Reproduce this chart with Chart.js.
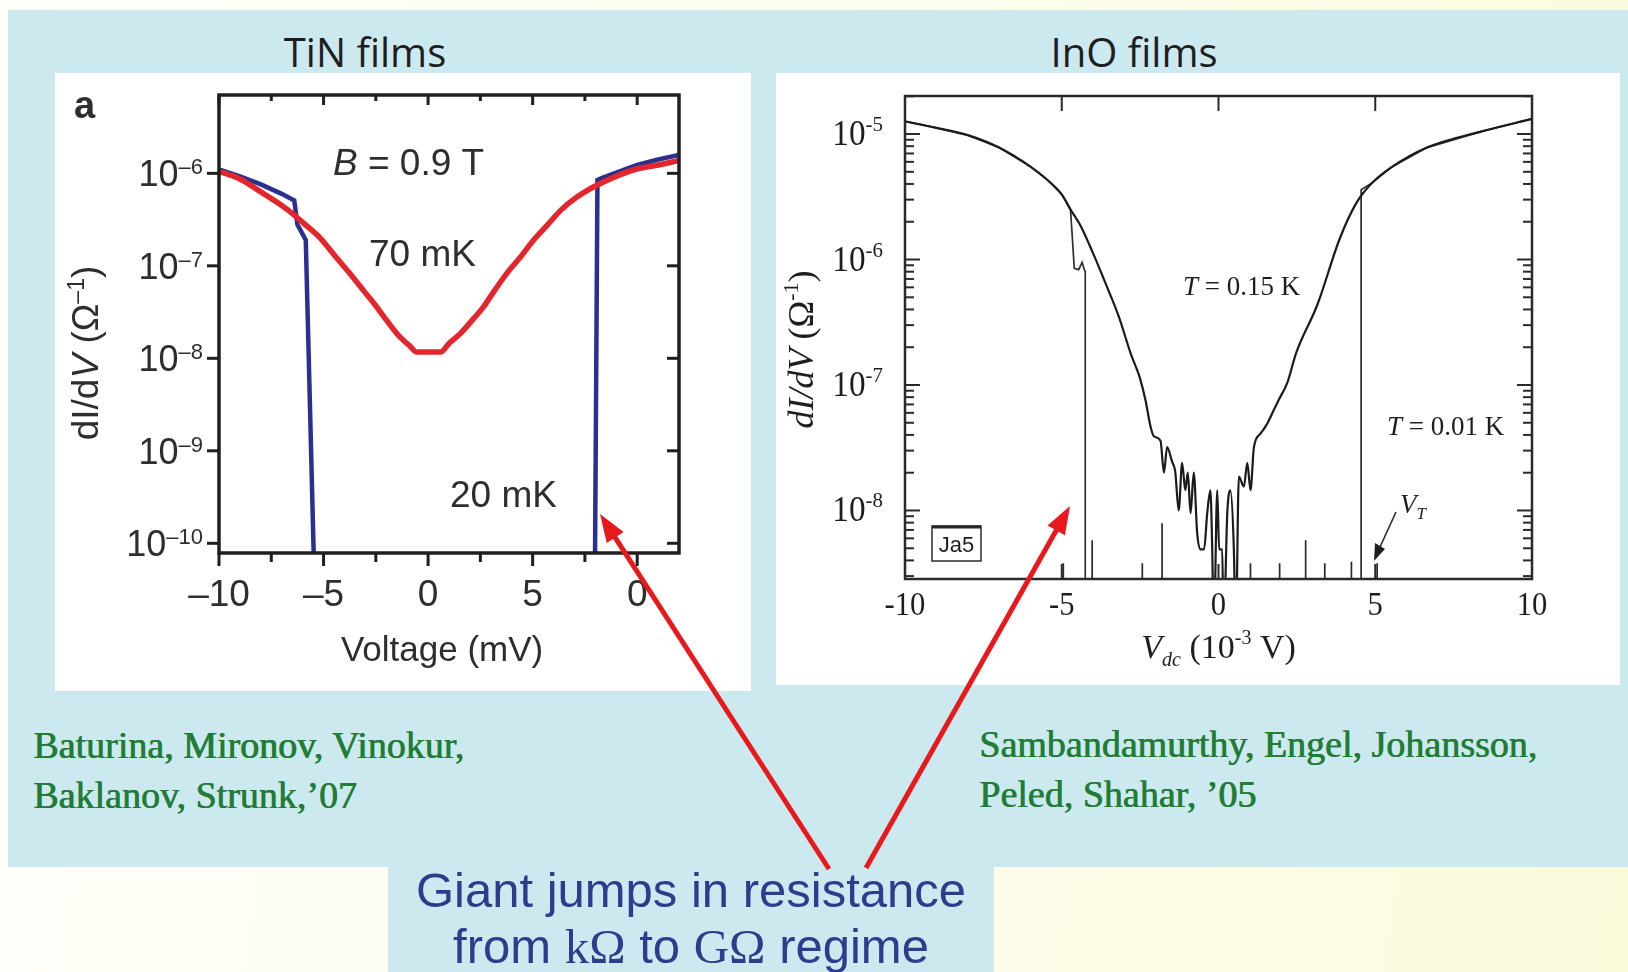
<!DOCTYPE html>
<html>
<head>
<meta charset="utf-8">
<script src="https://cdn.jsdelivr.net/npm/chart.js"></script>
<style>
  html, body { margin: 0; padding: 0; }
  body {
    width: 1628px; height: 972px; overflow: hidden; position: relative;
    background: linear-gradient(100deg, #fefefa 0%, #fdfdf0 45%, #fcfbdc 100%);
  }
  .blue { position: absolute; background: #cde9f0; }
  #panel { left: 8px; top: 10px; width: 1620px; height: 857px; }
  #capbox { left: 388px; top: 860px; width: 606px; height: 112px; }
  .box { position: absolute; background: #fff; }
  #tinBox { left: 55px; top: 73px; width: 696px; height: 618px; }
  #inoBox { left: 776px; top: 73px; width: 844px; height: 612px; }
  .title {
    position: absolute; top: 32px; font-family: "Open Sans", sans-serif; font-size: 40px;
    line-height: 40px; color: #1e1e1e; white-space: nowrap; transform: translateX(-50%);
  }
  .cite {
    position: absolute; font-family: "Liberation Serif", serif; font-size: 38px; line-height: 50px;
    color: #1f7d35; white-space: nowrap; text-shadow: 0.8px 0 0 #1f7d35;
  }
  .cap {
    position: absolute; left: 388px; top: 862px; width: 606px; text-align: center;
    font-family: "Liberation Sans", Arial, sans-serif; font-size: 49px; line-height: 56px;
    color: #2b3d8c; white-space: nowrap;
  }
  .cap .s { font-family: "Liberation Serif", serif; }
  canvas { position: absolute; }
  #arrows { left: 0; top: 0; z-index: 5; pointer-events: none; }
</style>
</head>
<body>
<div class="blue" id="panel"></div>
<div class="blue" id="capbox"></div>
<div class="title" style="left:365px">TiN films</div>
<div class="title" style="left:1134px">InO films</div>
<div class="box" id="tinBox"><canvas id="tin" width="696" height="618"></canvas></div>
<div class="box" id="inoBox"><canvas id="ino" width="844" height="612"></canvas></div>
<div class="cite" style="left:33px; top:720px">Baturina, Mironov, Vinokur,<br>Baklanov, Strunk,’07</div>
<div class="cite" style="left:979px; top:719px">Sambandamurthy, Engel, Johansson,<br>Peled, Shahar, ’05</div>
<div class="cap">Giant jumps in resistance<br>from <span class="s">kΩ</span> to <span class="s">GΩ</span> regime</div>
<canvas id="arrows" width="1628" height="972"></canvas>

<script>
// TiN film, B = 0.9 T: differential conductance (1/Ohm) against bias (mV)
var tinV70 = [-10, -9, -8, -7, -6.5, -6, -5.2, -4.5, -3.75, -3, -2.5, -2, -1.35, -0.9, -0.55,
  0.6, 1.0, 1.55, 2.1, 2.65, 3.2, 3.8, 4.4, 5.05, 5.7, 6.35, 7.1, 7.95, 8.9, 9.9, 11, 12];
var tinG70 = [1.05e-6, 8.7e-7, 6.3e-7, 4.5e-7, 3.7e-7, 2.95e-7, 2.04e-7, 1.32e-7, 8.3e-8, 5.1e-8, 3.7e-8, 2.6e-8, 1.7e-8, 1.38e-8, 1.17e-8,
  1.17e-8, 1.45e-8, 1.86e-8, 2.57e-8, 3.6e-8, 5.5e-8, 8.5e-8, 1.23e-7, 1.9e-7, 2.75e-7, 4.0e-7, 5.5e-7, 7.2e-7, 9.1e-7, 1.10e-6, 1.23e-6, 1.38e-6];
var tinV20 = [-10, -9, -8, -7, -6.4, -6.25, -5.85, -5.45, 0, 7.98, 8.1, 8.3, 9, 10, 11, 12];
var tinG20 = [1.10e-6, 9.3e-7, 7.6e-7, 6.0e-7, 5.1e-7, 2.8e-7, 1.9e-7, 5e-11, null, 5e-11, 8.5e-7, 8.9e-7, 1.02e-6, 1.23e-6, 1.41e-6, 1.58e-6];

var tinXTicks = [-10, -5, 0, 5, 10];
var tinXLabels = ['–10', '–5', '0', '5', '0'];
var tinXMinor = [-10, -7.5, -5, -2.5, 0, 2.5, 5, 7.5, 10];
var tinYExp = [-6, -7, -8, -9, -10];

// InO film (Ja5): T = 0.15 K and T = 0.01 K sweeps, V in mV
var inoV015 = [-10, -9, -8, -7, -6, -5.5, -5, -4.72, -4.4, -4.0, -3.55, -3.18, -2.8, -2.5, -2.33, -2.17, -2.06, -1.85, -1.74, -1.64,
  -1.48, -1.38, -1.27, -1.16, -1.06, -0.98, -0.89, -0.79, -0.68, -0.57, -0.46, -0.36, -0.26, -0.2, -0.15, -0.04, 0.02, 0.12, 0.16, 0.28,
  0.38, 0.49, 0.55, 0.65, 0.81, 0.92, 1.02, 1.13, 1.34, 1.55, 1.76, 1.92, 2.2, 2.47, 3.16, 3.86, 4.39, 4.91, 5.5, 6.65, 8.4, 10];
var inoG015 = [1.26e-5, 1.12e-5, 9.8e-6, 7.8e-6, 5.5e-6, 4.4e-6, 3.3e-6, 2.5e-6, 1.86e-6, 1.12e-6, 6.0e-7, 3.5e-7, 1.78e-7, 1.12e-7, 7.6e-8, 4.7e-8, 3.9e-8, 3.6e-8, 2.0e-8, 3.2e-8,
  2.45e-8, 2.04e-8, 1.0e-8, 2.4e-8, 1.45e-8, 2.0e-8, 9.5e-9, 2.0e-8, 6.6e-9, 4.9e-9, 4.9e-9, 9.5e-9, 1.45e-8, 4.9e-9, 1e-9, 1.45e-8, 4.9e-9, 4.9e-9, 1e-9, 9.5e-9,
  1.45e-8, 4.9e-9, 1e-9, 1.86e-8, 1.55e-8, 2.4e-8, 1.45e-8, 3.2e-8, 4.1e-8, 4.9e-8, 6.3e-8, 7.6e-8, 1.05e-7, 1.78e-7, 4.4e-7, 1.45e-6, 2.8e-6, 4.1e-6, 5.4e-6, 7.8e-6, 1.05e-5, 1.32e-5];
var inoV001 = [-10, -9, -8, -7, -6, -5.5, -5, -4.72, -4.6, -4.46, -4.35, -4.28, -4.25, -4.25, 0, 4.55, 4.55, 4.91, 5.5, 6.65, 8.4, 10];
var inoG001 = [1.26e-5, 1.12e-5, 9.8e-6, 7.8e-6, 5.5e-6, 4.4e-6, 3.3e-6, 2.5e-6, 8.5e-7, 8.3e-7, 9.5e-7, 8.3e-7, 8.0e-7, 1e-9, null,
  1e-9, 3.6e-6, 4.1e-6, 5.4e-6, 7.8e-6, 1.05e-5, 1.32e-5];
// isolated conductance spikes of the 0.01 K trace, rising from below the axis floor
var inoFloor = 1e-9;
var inoSpikeV = [-4.95, -4.03, -2.43, -1.80, 1.02, 1.95, 2.78, 3.39, 4.24, 5.06];
var inoSpikeTop = [3.8e-9, 5.8e-9, 3.8e-9, 7.9e-9, 3.8e-9, 3.8e-9, 5.8e-9, 3.8e-9, 3.9e-9, 3.8e-9];

var inoXTicks = [-10, -5, 0, 5, 10];
var inoXLabels = ['-10', '-5', '0', '5', '10'];
var inoXInner = [-5, 0, 5];
var inoYExp = [-5, -6, -7, -8];

function pts(xs, ys) {
  return xs.map(function (x, i) { return { x: x, y: ys[i] }; });
}

function spikes(xs, tops, floor) {
  var out = [];
  xs.forEach(function (x, i) {
    out.push({ x: x, y: floor }, { x: x, y: tops[i] }, { x: x, y: null });
  });
  return out;
}

function line(ctx, x0, y0, x1, y1) {
  ctx.beginPath(); ctx.moveTo(x0, y0); ctx.lineTo(x1, y1); ctx.stroke();
}

// draws a row of text pieces (font / baseline shift each), optionally squeezed horizontally
function runs(ctx, segs, x, y, align, sx) {
  sx = sx || 1;
  var w = 0;
  segs.forEach(function (s) { ctx.font = s.f; w += ctx.measureText(s.t).width; });
  var x0 = align === 'right' ? -w : align === 'center' ? -w / 2 : 0;
  ctx.save();
  ctx.translate(x, y);
  ctx.scale(sx, 1);
  ctx.textAlign = 'left';
  ctx.textBaseline = 'alphabetic';
  segs.forEach(function (s) {
    ctx.font = s.f;
    ctx.fillText(s.t, x0, s.dy || 0);
    x0 += ctx.measureText(s.t).width;
  });
  ctx.restore();
}

var SANS = '"Liberation Sans", Arial, sans-serif';
var SERIF = '"Liberation Serif", "Times New Roman", serif';

var tinAxes = {
  id: 'tinAxes',
  afterDatasetsDraw: function (chart) {
    var ctx = chart.ctx, a = chart.chartArea, xs = chart.scales.x, ys = chart.scales.y;
    ctx.save();
    ctx.strokeStyle = '#1f1f1f';
    ctx.fillStyle = '#2e2e2e';
    ctx.lineWidth = 3.5;
    ctx.strokeRect(a.left, a.top, a.right - a.left, a.bottom - a.top);
    ctx.lineWidth = 3;
    tinXMinor.forEach(function (v) {
      var x = xs.getPixelForValue(v), major = v % 5 === 0;
      line(ctx, x, a.bottom, x, a.bottom + (major ? 13 : 9));
      line(ctx, x, a.top, x, a.top + (major ? 10 : 6));
    });
    tinYExp.forEach(function (e) {
      var y = ys.getPixelForValue(Math.pow(10, e));
      line(ctx, a.left - 12, y, a.left, y);
      line(ctx, a.right - 12, y, a.right, y);
      runs(ctx, [{ t: '10', f: '36px ' + SANS }, { t: '–' + (-e), f: '22px ' + SANS, dy: -12 }], a.left - 16, y + 13, 'right');
    });
    tinXTicks.forEach(function (v, i) {
      runs(ctx, [{ t: tinXLabels[i], f: '37px ' + SANS }], xs.getPixelForValue(v), a.bottom + 53, 'center');
    });
    runs(ctx, [{ t: 'Voltage (mV)', f: '35px ' + SANS }], xs.getPixelForValue(0) + 14, a.bottom + 108, 'center');
    ctx.save();
    ctx.translate(a.left - 121, (a.top + a.bottom) / 2 + 29);
    ctx.rotate(-Math.PI / 2);
    runs(ctx, [{ t: 'dI/d', f: '37px ' + SANS }, { t: 'V', f: 'italic 37px ' + SANS }, { t: ' (Ω', f: '37px ' + SANS },
      { t: '–1', f: '23px ' + SANS, dy: -14 }, { t: ')', f: '37px ' + SANS }], 0, 0, 'center');
    ctx.restore();
    // panel letter and curve labels
    runs(ctx, [{ t: 'a', f: 'bold 38px ' + SANS }], 19, 45, 'left');
    runs(ctx, [{ t: 'B', f: 'italic 37px ' + SANS }, { t: ' = 0.9 T', f: '37px ' + SANS }], 278, 102, 'left');
    runs(ctx, [{ t: '70 mK', f: '37px ' + SANS }], 314, 193, 'left');
    runs(ctx, [{ t: '20 mK', f: '37px ' + SANS }], 395, 434, 'left');
    ctx.restore();
  }
};

var inoAxes = {
  id: 'inoAxes',
  afterDatasetsDraw: function (chart) {
    var ctx = chart.ctx, a = chart.chartArea, xs = chart.scales.x, ys = chart.scales.y;
    ctx.save();
    ctx.strokeStyle = '#2a2a2a';
    ctx.fillStyle = '#1e1e1e';
    ctx.lineWidth = 2.5;
    ctx.strokeRect(a.left, a.top, a.right - a.left, a.bottom - a.top);
    ctx.lineWidth = 2;
    for (var e = -9; e <= -5; e++) {
      for (var m = 1; m <= 9; m++) {
        var val = m * Math.pow(10, e);
        if (val < ys.min || val > ys.max) continue;
        var y = ys.getPixelForValue(val), len = m === 1 ? 15 : 9;
        line(ctx, a.left, y, a.left + len, y);
        line(ctx, a.right - len, y, a.right, y);
      }
    }
    inoXInner.forEach(function (v) {
      var x = xs.getPixelForValue(v);
      line(ctx, x, a.bottom, x, a.bottom - 15);
      line(ctx, x, a.top, x, a.top + 15);
    });
    inoYExp.forEach(function (e) {
      var y = ys.getPixelForValue(Math.pow(10, e));
      runs(ctx, [{ t: '10', f: '35px ' + SERIF }, { t: '-' + (-e), f: '22px ' + SERIF, dy: -14 }], a.left - 22, y + 11, 'right', 0.95);
    });
    inoXTicks.forEach(function (v, i) {
      runs(ctx, [{ t: inoXLabels[i], f: '34px ' + SERIF }], xs.getPixelForValue(v), a.bottom + 36, 'center', 0.9);
    });
    runs(ctx, [{ t: 'V', f: 'italic 34px ' + SERIF }, { t: 'dc', f: 'italic 20px ' + SERIF, dy: 8 }, { t: ' (10', f: '34px ' + SERIF },
      { t: '-3', f: '20px ' + SERIF, dy: -14 }, { t: ' V)', f: '34px ' + SERIF }], xs.getPixelForValue(0), a.bottom + 79, 'center');
    ctx.save();
    ctx.translate(a.left - 92, (a.top + a.bottom) / 2 + 12);
    ctx.rotate(-Math.PI / 2);
    runs(ctx, [{ t: 'dI/dV', f: 'italic 36px ' + SERIF }, { t: ' (Ω', f: '36px ' + SERIF },
      { t: '-1', f: '22px ' + SERIF, dy: -15 }, { t: ')', f: '36px ' + SERIF }], 0, 0, 'center');
    ctx.restore();
    // temperature labels, V_T marker and sample tag
    runs(ctx, [{ t: 'T', f: 'italic 27px ' + SERIF }, { t: ' = 0.15 K', f: '27px ' + SERIF }], 407, 222, 'left');
    runs(ctx, [{ t: 'T', f: 'italic 27px ' + SERIF }, { t: ' = 0.01 K', f: '27px ' + SERIF }], 611, 362, 'left');
    runs(ctx, [{ t: 'V', f: 'italic 27px ' + SERIF }, { t: 'T', f: 'italic 17px ' + SERIF, dy: 6 }], 624, 440, 'left');
    ctx.lineWidth = 1.6;
    line(ctx, 620, 439, 604, 474);
    ctx.beginPath();
    ctx.moveTo(598, 488); ctx.lineTo(599, 470); ctx.lineTo(609, 476); ctx.closePath(); ctx.fill();
    ctx.lineWidth = 1.5;
    ctx.strokeRect(156, 453, 49, 35);
    ctx.lineWidth = 3;
    line(ctx, 156, 454, 205, 454);
    runs(ctx, [{ t: 'Ja5', f: '22px ' + SANS }], 180.5, 479, 'center');
    ctx.restore();
  }
};

var common = {
  responsive: false,
  animation: false,
  events: [],
  plugins: { legend: { display: false }, tooltip: { enabled: false } }
};

new Chart(document.getElementById('tin'), {
  type: 'scatter',
  data: {
    datasets: [
      { label: '70 mK', data: pts(tinV70, tinG70), showLine: true, borderColor: '#e3262b', borderWidth: 5.5,
        pointRadius: 0, cubicInterpolationMode: 'monotone', borderCapStyle: 'round', borderJoinStyle: 'round' },
      { label: '20 mK', data: pts(tinV20, tinG20), showLine: true, borderColor: '#2b2f8f', borderWidth: 4.5,
        pointRadius: 0, tension: 0, spanGaps: false }
    ]
  },
  options: Object.assign({}, common, {
    layout: { padding: { left: 164, right: 72, top: 22, bottom: 138 } },
    scales: {
      x: { type: 'linear', min: -10, max: 12, display: false },
      y: { type: 'logarithmic', min: Math.pow(10, -10.105), max: Math.pow(10, -5.153), display: false }
    }
  }),
  plugins: [tinAxes]
});

new Chart(document.getElementById('ino'), {
  type: 'scatter',
  data: {
    datasets: [
      { label: 'T = 0.15 K', data: pts(inoV015, inoG015), showLine: true, borderColor: '#1b1b1b', borderWidth: 2.2,
        pointRadius: 0, cubicInterpolationMode: 'monotone' },
      { label: 'T = 0.01 K', data: pts(inoV001, inoG001), showLine: true, borderColor: '#2e2e2e', borderWidth: 1.7,
        pointRadius: 0, tension: 0, spanGaps: false },
      { label: 'spikes', data: spikes(inoSpikeV, inoSpikeTop, inoFloor), showLine: true, borderColor: '#2a2a2a',
        borderWidth: 1.7, pointRadius: 0, tension: 0, spanGaps: false }
    ]
  },
  options: Object.assign({}, common, {
    layout: { padding: { left: 129, right: 88, top: 23, bottom: 106 } },
    scales: {
      x: { type: 'linear', min: -10, max: 10, display: false },
      y: { type: 'logarithmic', min: Math.pow(10, -8.546), max: Math.pow(10, -4.697), display: false }
    }
  }),
  plugins: [inoAxes]
});

// red pointers from the caption up to the jumps
(function () {
  var ctx = document.getElementById('arrows').getContext('2d');
  function arrow(x0, y0, x1, y1) {
    var ang = Math.atan2(y1 - y0, x1 - x0), c = Math.cos(ang), s = Math.sin(ang), L = 28, W = 10;
    ctx.strokeStyle = ctx.fillStyle = '#e8191d';
    ctx.lineWidth = 5;
    line(ctx, x0, y0, x1 - L * 0.8 * c, y1 - L * 0.8 * s);
    ctx.beginPath();
    ctx.moveTo(x1, y1);
    ctx.lineTo(x1 - L * c + W * s, y1 - L * s - W * c);
    ctx.lineTo(x1 - L * c - W * s, y1 - L * s + W * c);
    ctx.closePath();
    ctx.fill();
  }
  arrow(829, 869, 600, 514);
  arrow(866, 868, 1070, 506);
})();
</script>
</body>
</html>
